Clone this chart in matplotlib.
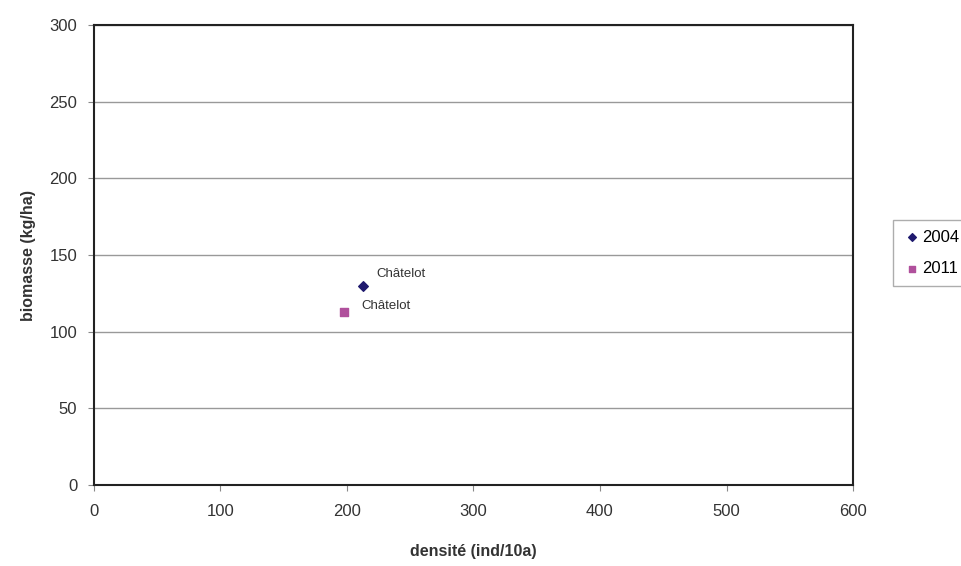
import matplotlib
matplotlib.use("Agg")
import matplotlib.pyplot as plt

plt.rcParams['font.family'] = ['Liberation Sans', 'DejaVu Sans']

# data
densite_2004 = [213]
biomasse_2004 = [130]
densite_2011 = [198]
biomasse_2011 = [113]
labels_2004 = ['Châtelot']
labels_2011 = ['Châtelot']

fig = plt.figure(figsize=(9.62, 5.66), dpi=100)
ax = fig.add_axes([0.0977, 0.1431, 0.789, 0.8127])

ax.scatter(densite_2004, biomasse_2004, marker='D', s=24, color='#1f1a6e', label='2004', zorder=3)
ax.scatter(densite_2011, biomasse_2011, marker='s', s=36, color='#b0509c', label='2011', zorder=3)

for x, y, t in zip(densite_2004, biomasse_2004, labels_2004):
    ax.annotate(t, (x, y), xytext=(9, 6), textcoords='offset points', fontsize=9.5, color='#333333')
for x, y, t in zip(densite_2011, biomasse_2011, labels_2011):
    ax.annotate(t, (x, y), xytext=(12, 2), textcoords='offset points', fontsize=9.5, color='#333333')

ax.set_xlim(0, 600)
ax.set_ylim(0, 300)
ax.set_xticks(range(0, 601, 100))
ax.set_yticks(range(0, 301, 50))
ax.yaxis.grid(True, color='#999999', linewidth=1)
ax.set_axisbelow(True)
for s in ax.spines.values():
    s.set_color('#222222')
    s.set_linewidth(1.5)
ax.tick_params(labelsize=12, length=4, color='#888888', colors='#333333')
ax.tick_params(axis='x', pad=10)
ax.tick_params(axis='y', pad=8)

ax.set_xlabel('densité (ind/10a)', fontsize=11.5, fontweight='bold', labelpad=18, color='#333333')
ax.set_ylabel('biomasse (kg/ha)', fontsize=11.5, fontweight='bold', labelpad=10, color='#333333')

fig.legend(loc='center left', bbox_to_anchor=(0.92, 0.553), fontsize=12, frameon=True,
           fancybox=False, edgecolor='#999999', handletextpad=0.1, borderpad=0.6,
           labelspacing=1.0, handlelength=1.0, markerscale=0.8)

fig.savefig('out.png', dpi=100)
